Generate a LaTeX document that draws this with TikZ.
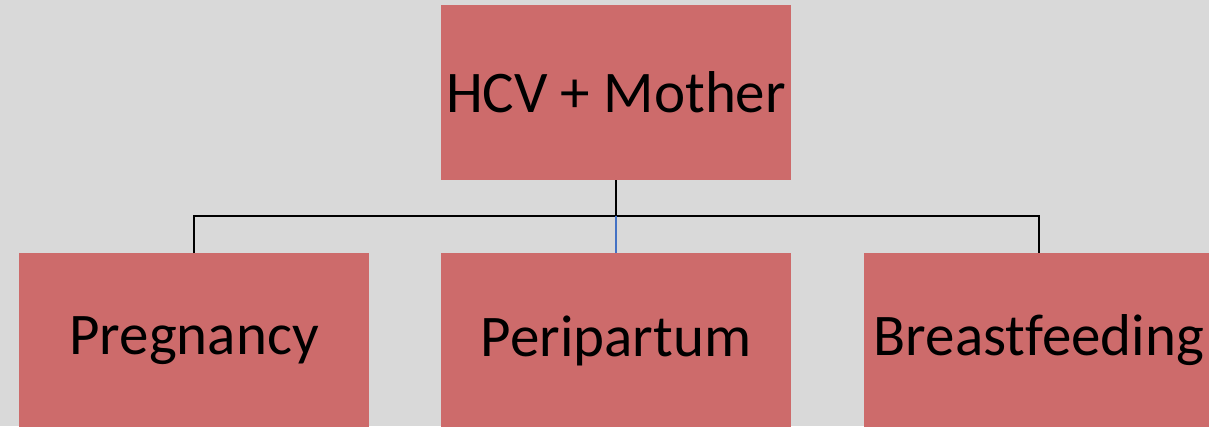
\documentclass[tikz,border=0pt]{standalone}
\usepackage{fontspec}
\setmainfont{Carlito}[Ligatures=NoCommon]
\definecolor{boxred}{HTML}{CD6B6B}
\definecolor{bggray}{HTML}{D9D9D9}
\definecolor{linkblue}{HTML}{4472C4}
\tikzset{every node/.append style={font=\fontsize{59}{70}\selectfont}}
\tikzset{stage/.style={fill=boxred, minimum width=350pt, minimum height=175pt, inner sep=0pt}}
\begin{document}
\begin{tikzpicture}[x=1pt, y=1pt]
    \fill[bggray] (0,0) rectangle (1209,426);
    \useasboundingbox (0,0) rectangle (1209,426);

    \node[stage] (mother) at (616,333.5) {HCV + Mother};
    \node[stage] (preg) at (194,85.5) {Pregnancy};
    \node[stage] (peri) at (616,85.5) {Peripartum};
    \node[stage] (breast) at (1039,85.5) {Breastfeeding};
    \coordinate (split) at (616,210);

    \draw[line width=2pt]
      (mother.south) -- (split)
      (preg.north) |- (split) -| (breast.north);
    \draw[line width=1.5pt, linkblue] (split) -- (peri.north);

\end{tikzpicture}
\end{document}
